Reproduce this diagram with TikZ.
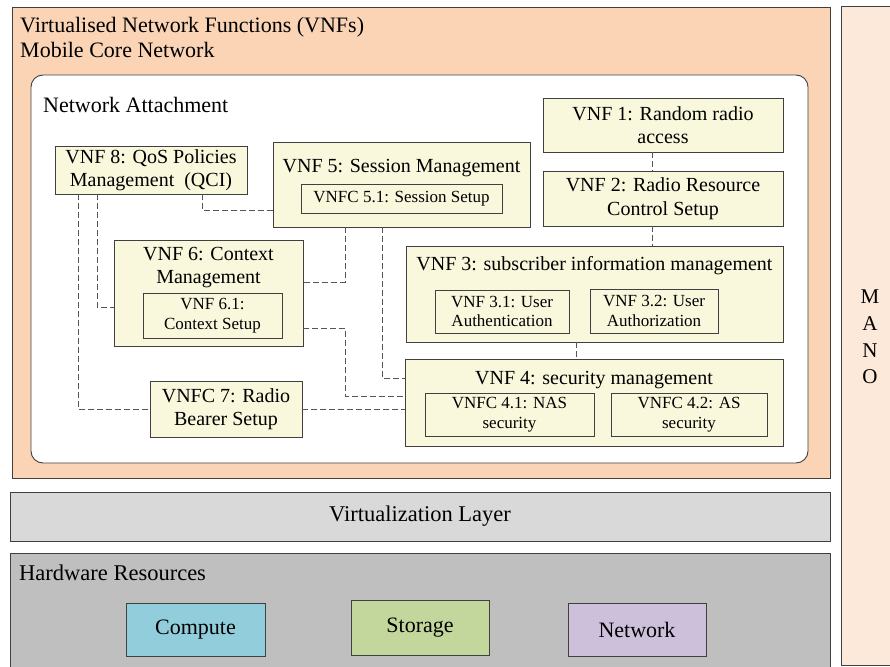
\documentclass[tikz,border=0pt]{standalone}
\usepackage{fontspec}
\setmainfont{LiberationSerif}[Extension=.ttf, UprightFont=*-Regular, BoldFont=*-Bold, ItalicFont=*-Italic, BoldItalicFont=*-BoldItalic]
\newcommand\fsz[2]{\fontsize{#1}{#2}\selectfont}
\definecolor{orangec}{HTML}{FAD4B4}
\definecolor{manoc}{HTML}{FDE9DA}
\definecolor{boxc}{HTML}{F9F7DC}
\definecolor{bordc}{HTML}{404040}
\definecolor{connc}{HTML}{555555}
\definecolor{virtc}{HTML}{D9D9D9}
\definecolor{hwc}{HTML}{BFBFBF}
\definecolor{compc}{HTML}{92CDDC}
\definecolor{storc}{HTML}{C3D69B}
\definecolor{netc}{HTML}{CCC0DA}
\tikzset{
  layer/.style={draw=bordc, line width=0.9pt, inner sep=0pt, outer sep=0pt},
  box/.style={layer, fill=boxc, align=center, font=\fsz{20}{23.5}},
  inbox/.style={box, font=\fsz{17}{19.5}},
  title/.style={inner sep=0pt, anchor=base west, font=\fsz{22}{25}},
  btitle/.style={inner sep=0pt, anchor=base, font=\fsz{20}{23.5}},
  hwbox/.style={layer, align=center, font=\fsz{22}{25}},
  conn/.style={draw=connc, line width=0.9pt, dash pattern=on 6pt off 3pt},
}
\begin{document}
\begin{tikzpicture}[x=1pt,y=-1pt]
\useasboundingbox (0,0) rectangle (890,666);
\clip (0,0) rectangle (890,666);
% layers
\node[layer, fill=orangec, minimum width=818, minimum height=471] (vnfs) at (421,242.5) {};
\node[title] (t1) at (20,33) {Virtualised Network Functions (VNFs)};
\node[title] (t2) at (20,58) {Mobile Core Network};
\node[layer, fill=white, rounded corners=12pt, minimum width=777, minimum height=388] (att) at (419.5,269) {};
\node[title] (t3) at (43,112) {Network Attachment};
\node[layer, fill=manoc, minimum width=59, minimum height=659] (mano) at (870.5,335.5) {};
\node[inner sep=0pt, align=center, font=\fsz{21}{26.7}] (manot) at (870,337) {M\\A\\N\\O};
\node[hwbox, fill=virtc, minimum width=820, minimum height=49, font=\fsz{22.5}{25}] (virt) at (420,516.5) {Virtualization Layer};
\node[layer, fill=hwc, minimum width=820, minimum height=147] (hw) at (420,626.5) {};
\node[title, font=\fsz{22.5}{25}] (t4) at (19,580) {Hardware Resources};
\node[hwbox, fill=compc, minimum width=139, minimum height=53] (comp) at (195.5,629.5) {Compute};
\node[hwbox, fill=storc, minimum width=138, minimum height=55] (stor) at (420,627.5) {Storage};
\node[hwbox, fill=netc, minimum width=138, minimum height=53] (net) at (637,629.5) {Network};
% VNF boxes
\node[box, minimum width=192, minimum height=48] (vnf8) at (151,170) {VNF 8: QoS Policies\\Management\ \ (QCI)};
\node[box, minimum width=257, minimum height=85] (vnf5) at (401.5,184.5) {};
\node[btitle] (vnf5t) at (401.5,172) {VNF 5: Session Management};
\node[inbox, minimum width=201, minimum height=29] (vnf51) at (401.5,198.5) {VNFC 5.1: Session Setup};
\node[box, minimum width=189, minimum height=106] (vnf6) at (208.5,293) {};
\node[btitle] (vnf6t) at (208.5,260) {VNF 6: Context};
\node[btitle] (vnf6u) at (208.5,283) {Management};
\node[inbox, minimum width=139, minimum height=45] (vnf61) at (212.5,315.5) {VNF 6.1:\\Context Setup};
\node[box, minimum width=152, minimum height=56] (vnfc7) at (226,409) {VNFC 7: Radio\\Bearer Setup};
\node[box, minimum width=240, minimum height=54] (vnf1) at (663,125) {VNF 1: Random radio\\access};
\node[box, minimum width=240, minimum height=55] (vnf2) at (663,198.5) {VNF 2: Radio Resource\\Control Setup};
\node[box, minimum width=377, minimum height=96] (vnf3) at (594.5,294) {};
\node[btitle] (vnf3t) at (594.5,270) {VNF 3: subscriber information management};
\node[inbox, minimum width=134, minimum height=43] (vnf31) at (502,311.5) {VNF 3.1: User\\Authentication};
\node[inbox, minimum width=128, minimum height=44] (vnf32) at (654,311) {VNF 3.2: User\\Authorization};
\node[box, minimum width=378, minimum height=87] (vnf4) at (594,402.5) {};
\node[btitle] (vnf4t) at (594,384) {VNF 4: security management};
\node[inbox, minimum width=169, minimum height=43] (vnf41) at (509.5,414.5) {VNFC 4.1: NAS\\security};
\node[inbox, minimum width=156, minimum height=43] (vnf42) at (689,414.5) {VNFC 4.2: AS\\security};
% connectors
\draw[conn] (vnf8.south -| 202,0) |- (vnf5.west |- 0,210);
\draw[conn] (vnf8.south -| 97,0) |- (vnf6.west |- 0,307);
\draw[conn] (vnf8.south -| 78,0) |- (vnfc7.west);
\draw[conn] (vnf5.south -| 345,0) |- (vnf6.east |- 0,282);
\draw[conn] (vnf6.east |- 0,328) -- (345,328) -- (345,396) -- (vnf4.west |- 0,396);
\draw[conn] (vnf5.south -| 382,0) |- (vnf4.west |- 0,378);
\draw[conn] (vnfc7.east) -- (vnf4.west |- vnfc7.east);
\draw[conn] (vnf1.south -| 652,0) -- (vnf2.north -| 652,0);
\draw[conn] (vnf2.south -| 652,0) -- (vnf3.north -| 652,0);
\draw[conn] (vnf3.south -| 576,0) -- (vnf4.north -| 576,0);
\end{tikzpicture}
\end{document}
